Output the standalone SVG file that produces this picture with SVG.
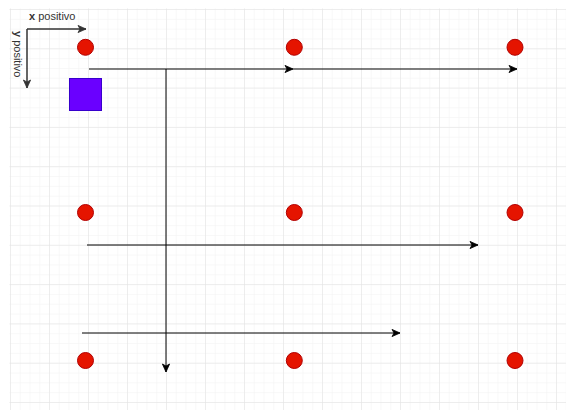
<svg xmlns="http://www.w3.org/2000/svg" width="566" height="410" viewBox="0 0 566 410">
  <style>
    .dot { fill: #e51400; stroke: #b20000; stroke-width: 1; }
    .conn { fill: none; stroke: #000000; stroke-width: 1; }
    .axis { fill: none; stroke: #333333; stroke-width: 1.5; }
    .lbl { font-family: "Liberation Sans", Arial, sans-serif; font-size: 11px; fill: #333333; }
  </style>
  <defs>
    <pattern id="minor" patternUnits="userSpaceOnUse" x="10" y="9" width="9.75" height="9.825">
      <path d="M0,0 H9.75 M0,0 V9.825" fill="none" stroke="#f2f2f2" stroke-width="1"/>
    </pattern>
    <pattern id="major" patternUnits="userSpaceOnUse" x="10" y="9" width="39" height="39.3">
      <path d="M0,0 H39 M0,0 V39.3" fill="none" stroke="#e2e2e2" stroke-width="1"/>
    </pattern>
    <marker id="arr" markerUnits="userSpaceOnUse" markerWidth="12" markerHeight="10" viewBox="-9 -5 10 10" refX="0" refY="0" orient="auto">
      <path d="M0,0 L-8,-3.6 L-6,0 L-8,3.6 Z" fill="#000000" stroke="#000000" stroke-width="0.8"/>
    </marker>
    <marker id="arrAxis" markerUnits="userSpaceOnUse" markerWidth="12" markerHeight="10" viewBox="-9 -5 10 10" refX="0" refY="0" orient="auto">
      <path d="M0,0 L-8,-3.6 L-6,0 L-8,3.6 Z" fill="#333333" stroke="#333333" stroke-width="0.8"/>
    </marker>
  </defs>

  <rect x="0" y="0" width="566" height="410" fill="#ffffff"/>
  <g id="grid">
    <rect x="9.5" y="8.5" width="557" height="402" fill="url(#minor)"/>
    <rect x="9.5" y="8.5" width="557" height="402" fill="url(#major)"/>
  </g>

  <g id="axes">
    <path class="axis" d="M27,29 H86" marker-end="url(#arrAxis)"/>
    <path class="axis" d="M27,29 V88" marker-end="url(#arrAxis)"/>
    <text class="lbl" x="29" y="20"><tspan font-weight="bold">x</tspan> positivo</text>
    <text class="lbl" transform="translate(13.5,31) rotate(90)"><tspan font-weight="bold">y</tspan> positivo</text>
  </g>

  <g id="connectors">
    <path class="conn" d="M89,69 H293" marker-end="url(#arr)"/>
    <path class="conn" d="M293,69 H517" marker-end="url(#arr)"/>
    <path class="conn" d="M166,69 V372" marker-end="url(#arr)"/>
    <path class="conn" d="M87,245 H478" marker-end="url(#arr)"/>
    <path class="conn" d="M82,333 H400" marker-end="url(#arr)"/>
  </g>

  <g id="square">
    <rect x="69.5" y="78.5" width="32" height="32" fill="#6a00ff" stroke="#3700cc" stroke-width="1"/>
  </g>

  <g id="dot-r1c1"><circle class="dot" cx="85.5" cy="47.3" r="8"/></g>
  <g id="dot-r1c2"><circle class="dot" cx="294.3" cy="47.3" r="8"/></g>
  <g id="dot-r1c3"><circle class="dot" cx="515" cy="47.3" r="8"/></g>
  <g id="dot-r2c1"><circle class="dot" cx="85.5" cy="212.5" r="8"/></g>
  <g id="dot-r2c2"><circle class="dot" cx="294.3" cy="212.5" r="8"/></g>
  <g id="dot-r2c3"><circle class="dot" cx="515" cy="212.5" r="8"/></g>
  <g id="dot-r3c1"><circle class="dot" cx="85.5" cy="360.5" r="8"/></g>
  <g id="dot-r3c2"><circle class="dot" cx="294.3" cy="360.5" r="8"/></g>
  <g id="dot-r3c3"><circle class="dot" cx="515" cy="360.5" r="8"/></g>
</svg>
